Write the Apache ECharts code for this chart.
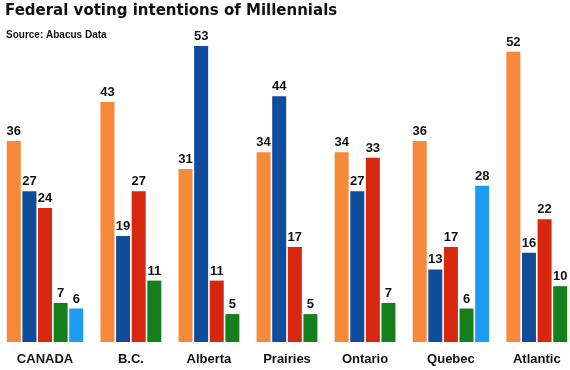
<!DOCTYPE html>
<html><head><meta charset="utf-8">
<script src="https://cdn.jsdelivr.net/npm/echarts@6/dist/echarts.min.js"></script>
<style>html,body{margin:0;padding:0;background:#fff}#c{width:570px;height:370px}</style>
</head><body><div id="c"></div>
<script>
const categories = ['CANADA', 'B.C.', 'Alberta', 'Prairies', 'Ontario', 'Quebec', 'Atlantic'];
const liberal      = [36, 43, 31, 34, 34, 36, 52];
const conservative = [27, 19, 53, 44, 27, 13, 16];
const ndp          = [24, 27, 11, 17, 33, 17, 22];
const green        = [7, 11, 5, 5, 7, 6, 10];
const bloc         = [6, null, null, null, null, 28, null];

const partySeries = [
  {name: 'Liberal', values: liberal, color: '#F7893A'},
  {name: 'Conservative', values: conservative, color: '#0F4C9B'},
  {name: 'NDP', values: ndp, color: '#D8270F'},
  {name: 'Green', values: green, color: '#157F1E'},
  {name: 'Bloc', values: bloc, color: '#1E9CF4'}
];

// assign slot positions: consecutive bars per region, one empty slot between regions
const seriesData = partySeries.map(() => []);
const groupCenters = [];
let slot = 0;
categories.forEach((cat, i) => {
  const start = slot;
  partySeries.forEach((p, k) => {
    const v = p.values[i];
    if (v !== null && v !== undefined) {
      seriesData[k].push([slot + 0.5, v]);
      slot++;
    }
  });
  groupCenters.push((start + slot) / 2);
  slot++;
});
const totalSlots = slot - 1;

const chart = echarts.init(document.getElementById('c'), null, {renderer: 'canvas'});
const sans = '"Liberation Sans", Arial, sans-serif';
chart.setOption({
  animation: false,
  backgroundColor: '#ffffff',
  title: [
    {text: 'Federal voting intentions of Millennials', left: 5, top: 4, padding: 0,
     textStyle: {fontFamily: '"DejaVu Sans", sans-serif', fontWeight: 'bold', fontSize: 15, color: '#111'}},
    {text: 'Source: Abacus Data', left: 6, top: 30, padding: 0,
     textStyle: {fontFamily: sans, fontWeight: 'bold', fontSize: 10, color: '#111'}}
  ],
  grid: {left: 6, right: 2, top: 7, bottom: 28},
  xAxis: {
    type: 'value', min: 0, max: totalSlots,
    splitLine: {show: false}, axisLine: {show: false}, axisTick: {show: false},
    axisLabel: {
      customValues: groupCenters,
      formatter: (v) => { const i = groupCenters.findIndex(c => Math.abs(c - v) < 1e-6); return i >= 0 ? categories[i] : ''; },
      margin: 11, fontFamily: sans, fontWeight: 'bold', fontSize: 13, color: '#111'
    }
  },
  yAxis: {type: 'value', min: 0, max: 60, show: false, splitLine: {show: false}},
  series: partySeries.map((p, k) => ({
    type: 'bar', name: p.name, data: seriesData[k], barWidth: 14, barGap: '-100%',
    itemStyle: {color: p.color},
    label: {show: true, position: 'top', distance: 3, fontFamily: sans, fontWeight: 'bold', fontSize: 13, color: '#111',
            formatter: (d) => d.value[1]}
  }))
});
</script></body></html>
